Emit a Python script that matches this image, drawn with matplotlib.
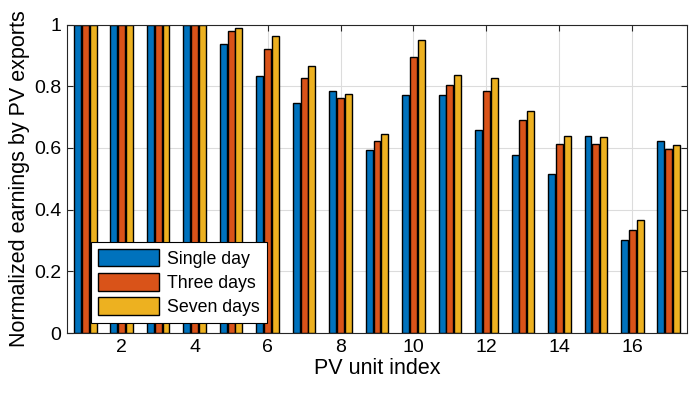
import numpy as np
from matplotlib import pyplot as plt

# PV 单元归一化收益数据
units = list(range(1, 18))
single_day = [1.0, 1.0, 1.0, 1.0, 0.938, 0.832, 0.747, 0.783, 0.592, 0.773, 0.773, 0.657, 0.576, 0.514, 0.640, 0.300, 0.621]
three_days = [1.0, 1.0, 1.0, 1.0, 0.980, 0.922, 0.828, 0.763, 0.624, 0.895, 0.805, 0.783, 0.689, 0.614, 0.614, 0.333, 0.595]
seven_days = [1.0, 1.0, 1.0, 1.0, 0.989, 0.964, 0.864, 0.776, 0.644, 0.951, 0.835, 0.825, 0.721, 0.640, 0.634, 0.365, 0.611]

plt.rcParams['font.family'] = ['Liberation Sans', 'DejaVu Sans']

fig = plt.figure(figsize=(6.92, 3.94), dpi=100)
ax = fig.add_axes([0.0968, 0.1548, 0.896, 0.783])

x = np.array(units)
w = 0.19
off = 0.215
ax.bar(x - off, single_day, w, color='#0072BD', edgecolor='black', linewidth=1, label='Single day', zorder=3)
ax.bar(x, three_days, w, color='#D95319', edgecolor='black', linewidth=1, label='Three days', zorder=3)
ax.bar(x + off, seven_days, w, color='#EDB120', edgecolor='black', linewidth=1, label='Seven days', zorder=3)

ax.set_xlim(0.5, 17.5)
ax.set_ylim(0, 1)
ax.set_xticks(range(2, 17, 2))
ax.set_yticks([0, 0.2, 0.4, 0.6, 0.8, 1])
ax.set_yticklabels(['0', '0.2', '0.4', '0.6', '0.8', '1'])
ax.grid(True, color='#dcdcdc', linewidth=0.8, zorder=0)
ax.tick_params(direction='in', top=True, right=True, labelsize=14, length=4, color='#262626', pad=4)
for s in ax.spines.values():
    s.set_color('#262626')
    s.set_zorder(5)

ax.set_xlabel('PV unit index', fontsize=15.5, labelpad=2)
ax.set_ylabel('Normalized earnings by PV exports', fontsize=15.5, labelpad=3)

leg = ax.legend(loc='lower left', bbox_to_anchor=(0.039, 0.032), borderaxespad=0, fontsize=12.8,
                fancybox=False, framealpha=1, edgecolor='black', handlelength=3.4, handleheight=1.15,
                borderpad=0.4, labelspacing=0.3, handletextpad=0.45)
leg.get_frame().set_linewidth(0.8)
leg.set_zorder(6)

plt.savefig('out.png', dpi=100)
